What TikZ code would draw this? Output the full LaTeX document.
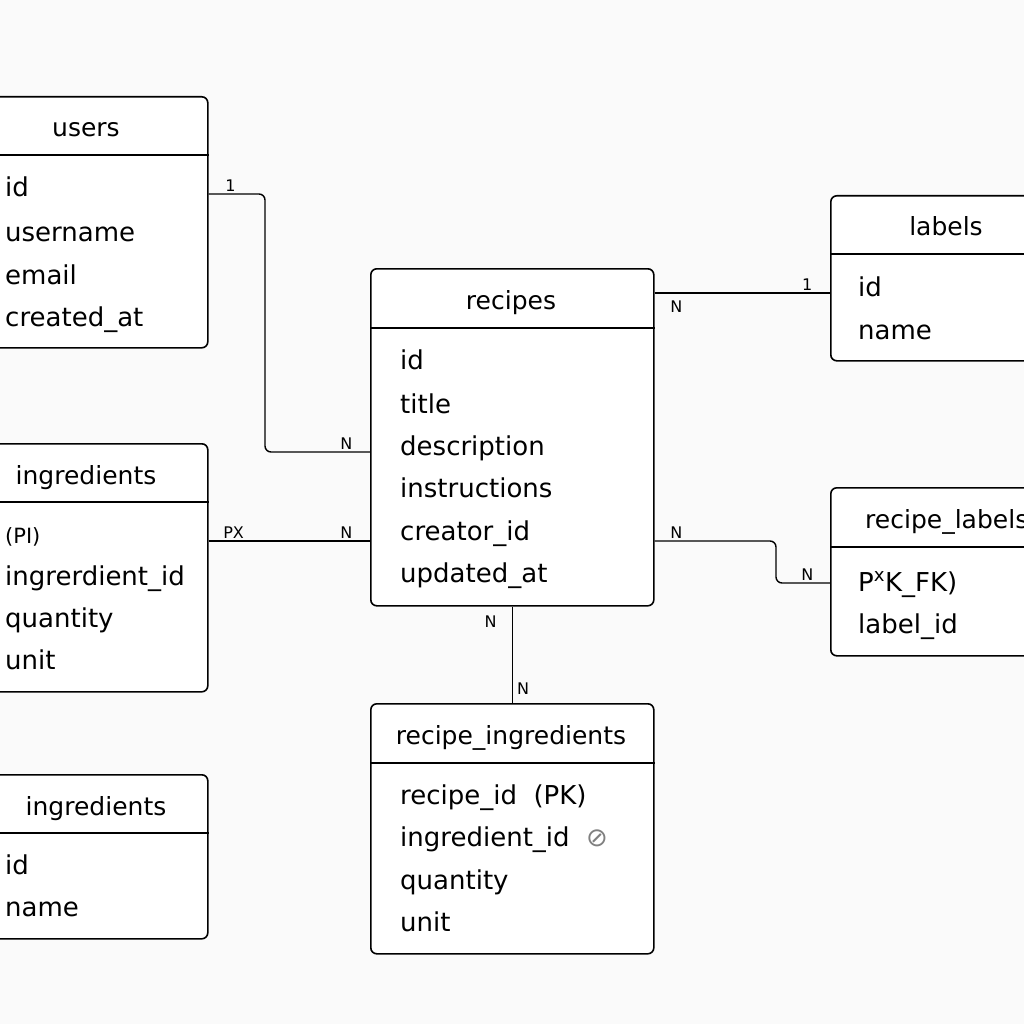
\documentclass[tikz,border=0pt]{standalone}
\usepackage{fontspec}
\setmainfont{DejaVu Sans}
\usetikzlibrary{positioning,calc}

\begin{document}
\begin{tikzpicture}[x=1pt, y=-1pt,
    entity/.style={draw, line width=1.6pt, rounded corners=6pt, fill=white, anchor=north west, inner sep=0pt},
    title/.style={anchor=base, inner sep=0pt, font=\fontsize{25}{30}\selectfont},
    field/.style={anchor=base west, inner sep=0pt, font=\fontsize{26}{30}\selectfont},
    rel/.style={line width=1.4pt, rounded corners=6pt},
    card/.style={inner sep=2pt, font=\fontsize{16}{18}\selectfont}
]

% Background
\fill[gray!4] (0,0) rectangle (1024,1024);
\useasboundingbox (0,0) rectangle (1024,1024);
\clip (0,0) rectangle (1024,1024);

% Draw tables
\node[entity, minimum width=242pt, minimum height=251pt] (users) at (-35,96) {};
\draw[line width=1.6pt] ($(users.north west)+(0,59)$) -- ($(users.north east)+(0,59)$);
\node[title] (usersh) at (86,137) {users};
\node[field] (uid) at (5,197) {id};
\node[field] (uname) at (5,241) {username};
\node[field] (umail) at (5,284) {email};
\node[field] (ucreated) at (5,326) {created\_at};

\node[entity, minimum width=242pt, minimum height=248pt] (ingr) at (-35,443) {};
\draw[line width=1.6pt] ($(ingr.north west)+(0,59)$) -- ($(ingr.north east)+(0,59)$);
\node[title] (ingrh) at (86,484) {ingredients};
\node[field, font=\fontsize{21}{24}\selectfont] (ipk) at (5,543) {(PI)};
\node[field] (iid) at (5,585) {ingrerdient\_id};
\node[field] (iqty) at (5,627) {quantity};
\node[field] (iunit) at (5,669) {unit};

\node[entity, minimum width=222pt, minimum height=164pt] (ingrb) at (-15,774) {};
\draw[line width=1.6pt] ($(ingrb.north west)+(0,59)$) -- ($(ingrb.north east)+(0,59)$);
\node[title] (ingrbh) at (96,815) {ingredients};
\node[field] (bid) at (5,874) {id};
\node[field] (bname) at (5,916) {name};

\node[entity, minimum width=283pt, minimum height=337pt] (recipes) at (370,268) {};
\draw[line width=1.6pt] ($(recipes.north west)+(0,60)$) -- ($(recipes.north east)+(0,60)$);
\node[title] (recipesh) at (511,309) {recipes};
\node[field] (rid) at (400,369) {id};
\node[field] (rtitle) at (400,413) {title};
\node[field] (rdesc) at (400,455) {description};
\node[field] (rinstr) at (400,497) {instructions};
\node[field] (rcreator) at (400,540) {creator\_id};
\node[field] (rupdated) at (400,582) {updated\_at};

\node[entity, minimum width=232pt, minimum height=165pt] (labels) at (830,195) {};
\draw[line width=1.6pt] ($(labels.north west)+(0,59)$) -- ($(labels.north east)+(0,59)$);
\node[title] (labelsh) at (946,236) {labels};
\node[field] (lid) at (858,296) {id};
\node[field] (lname) at (858,339) {name};

\node[entity, minimum width=245pt, minimum height=168pt] (rlabels) at (830,487) {};
\draw[line width=1.6pt] ($(rlabels.north west)+(0,60)$) -- ($(rlabels.north east)+(0,60)$);
\node[title, anchor=base west] (rlabelsh) at (865,528) {recipe\_labels};
\node[field] (rlpk) at (858,591) {P\textsuperscript{x}K\_FK)};
\node[field] (rllabel) at (858,633) {label\_id};

\node[entity, minimum width=283pt, minimum height=250pt] (ringr) at (370,703) {};
\draw[line width=1.6pt] ($(ringr.north west)+(0,60)$) -- ($(ringr.north east)+(0,60)$);
\node[title] (ringrh) at (511,744) {recipe\_ingredients};
\node[field] (rirecipe) at (400,804) {recipe\_id\ \ (PK)};
\node[field] (riingr) at (400,846) {ingredient\_id\ \ {\color{gray}\fontsize{26}{30}\selectfont ⊘}};
\node[field] (riqty) at (400,889) {quantity};
\node[field] (riunit) at (400,931) {unit};

% Draw relations
\draw[rel] ($(users.north east)+(0,98)$) node[card, above right, xshift=14pt] (c1) {1}
    -| ($(recipes.north west)+(-105,184)$) -- ($(recipes.north west)+(0,184)$) node[card, above left, xshift=-15pt] (c2) {N};
\draw[rel] ($(ingr.north east)+(0,98)$) node[card, above right, xshift=12pt] (c3) {PX}
    -- ($(recipes.north west)+(0,273)$) node[card, above left, xshift=-15pt] (c4) {N};
\draw[rel] ($(recipes.north east)+(0,25)$) node[card, below right, xshift=13pt, yshift=-5pt] (c5) {N}
    -- ($(labels.north west)+(0,98)$) node[card, above left, xshift=-15pt] (c6) {1};
\draw[rel] ($(recipes.north east)+(0,273)$) node[card, above right, xshift=13pt] (c7) {N}
    -| ($(rlabels.north west)+(-54,96)$) -- ($(rlabels.north west)+(0,96)$) node[card, above left, xshift=-14pt] (c8) {N};
\draw[rel] (recipes.south) node[card, below left, xshift=-13pt, yshift=-7pt] (c9) {N}
    -- (ringr.north) node[card, above right, xshift=2pt, yshift=6pt] (c10) {N};

\end{tikzpicture}
\end{document}
